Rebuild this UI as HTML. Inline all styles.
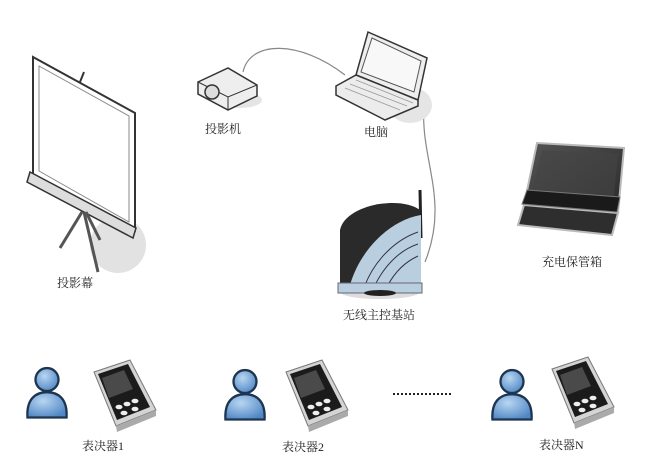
<!DOCTYPE html>
<html><head><meta charset="utf-8"><style>
html,body{margin:0;padding:0;background:#fff;}
svg{display:block}
text{font-family:"Liberation Serif","Noto Serif CJK SC",serif;font-size:12px;fill:#222}
</style></head><body>
<svg width="650" height="464" viewBox="0 0 650 464" xmlns="http://www.w3.org/2000/svg">
<defs>
<radialGradient id="pg" cx="0.4" cy="0.35" r="0.7"><stop offset="0" stop-color="#b8d6f2"/><stop offset="1" stop-color="#4f86c4"/></radialGradient>
<linearGradient id="cg" x1="0" y1="0" x2="1" y2="1"><stop offset="0" stop-color="#555"/><stop offset="1" stop-color="#2a2a2a"/></linearGradient>
<g id="person">
<path d="M-17,30 C-18,14 -10,8 0,8 C10,8 18,14 17,30 Z" fill="url(#pg)" stroke="#1e3550" stroke-width="2"/>
<circle cx="0" cy="-3" r="10" fill="url(#pg)" stroke="#1e3550" stroke-width="2"/>
</g>
<g id="dev">
<polygon points="0,12 36,0 62,50 22,66" fill="#d4d4d4" stroke="#777" stroke-width="1"/>
<polygon points="4,14 34,4 56,47 23,60" fill="#1b1b1b"/>
<polygon points="8,18 30,10 39,29 15,38" fill="#4a4a4a"/>
<ellipse cx="25" cy="47" rx="3.5" ry="2.3" fill="#eee"/>
<ellipse cx="33" cy="44" rx="3.5" ry="2.3" fill="#eee"/>
<ellipse cx="41" cy="41" rx="3.5" ry="2.3" fill="#eee"/>
<ellipse cx="30" cy="53" rx="3.5" ry="2.3" fill="#eee"/>
<ellipse cx="41" cy="49" rx="3.5" ry="2.3" fill="#eee"/>
<polygon points="22,66 62,50 62,56 23,72" fill="#aaa"/>
</g>
</defs>

<ellipse cx="118" cy="245" rx="28" ry="28" fill="#e2e2e2"/>
<polygon points="33,57 135,113 135,230 33,174" fill="#fff" stroke="#333" stroke-width="2"/>
<polygon points="39,66 129,116 129,222 39,171" fill="#fff" stroke="#888" stroke-width="1"/>
<line x1="80" y1="82" x2="84" y2="72" stroke="#333" stroke-width="2"/>
<polygon points="30,172 136,228 133,238 27,182" fill="#ddd" stroke="#333" stroke-width="1.5"/>
<g stroke="#555" stroke-width="3" fill="none">
<line x1="82" y1="212" x2="60" y2="248"/>
<line x1="84" y1="212" x2="98" y2="272"/>
<line x1="86" y1="212" x2="100" y2="240"/>
</g>
<text x="57" y="287">投影幕</text>

<path d="M243,72 C250,40 300,40 345,75" fill="none" stroke="#888" stroke-width="1.2"/>
<path d="M424,106 C420,160 450,200 425,262" fill="none" stroke="#888" stroke-width="1.2"/>

<ellipse cx="240" cy="100" rx="22" ry="8" fill="#e5e5e5"/>
<polygon points="198,82 228,68 257,85 257,96 228,110 198,94" fill="#eee" stroke="#333" stroke-width="1.5"/>
<polyline points="198,82 228,97 257,85" fill="none" stroke="#333" stroke-width="1"/>
<line x1="228" y1="97" x2="228" y2="110" stroke="#333"/>
<circle cx="212" cy="92" r="7" fill="#ddd" stroke="#333" stroke-width="1.5"/>
<text x="205" y="133">投影机</text>

<ellipse cx="410" cy="105" rx="22" ry="18" fill="#e5e5e5"/>
<polygon points="368,32 427,58 418,100 356,75" fill="#eee" stroke="#333" stroke-width="1.5"/>
<polygon points="372,38 421,61 414,92 361,72" fill="#f8f8f8" stroke="#555"/>
<polygon points="336,86 356,75 418,100 418,106 385,120 336,95" fill="#ececec" stroke="#333" stroke-width="1.5"/>
<g stroke="#999" stroke-width="0.8"><line x1="345" y1="88" x2="400" y2="110"/><line x1="350" y1="84" x2="407" y2="106"/><line x1="356" y1="80" x2="413" y2="103"/></g>
<text x="364" y="136">电脑</text>

<ellipse cx="380" cy="292" rx="40" ry="7" fill="#ddd"/>
<line x1="420" y1="190" x2="421" y2="238" stroke="#222" stroke-width="3"/>
<path d="M340,230 C345,205 400,195 420,210 L421,285 L340,285 Z" fill="#2a2a2a"/>
<path d="M350,285 C360,250 390,220 421,215 L421,285 Z" fill="#b9cfe0"/>
<g fill="none" stroke="#334" stroke-width="1"><path d="M365,285 C375,260 395,240 418,232"/><path d="M375,285 C385,265 400,250 418,244"/><path d="M388,285 C395,272 405,262 418,256"/></g>
<rect x="338" y="283" width="84" height="10" fill="#b9cfe0" stroke="#667"/>
<ellipse cx="380" cy="293" rx="16" ry="3" fill="#222"/>
<text x="343" y="319">无线主控基站</text>

<polygon points="537,143 624,148 618,213 524,205" fill="url(#cg)" stroke="#bbb" stroke-width="2"/>
<polygon points="542,150 618,154 613,207 530,200" fill="#444" opacity="0.6"/>
<polygon points="524,205 618,213 612,235 518,225" fill="#2e2e2e" stroke="#bbb" stroke-width="2"/>
<polygon points="527,190 620,197 617,212 522,204" fill="#1a1a1a" stroke="#777"/>
<text x="542" y="266">充电保管箱</text>

<use href="#person" transform="translate(47,383) scale(1.15)"/>
<use href="#dev" x="94" y="360"/>
<text x="82" y="450">表决器1</text>
<use href="#person" transform="translate(245,385) scale(1.15)"/>
<use href="#dev" x="286" y="360"/>
<text x="282" y="451">表决器2</text>
<line x1="393" y1="394" x2="452" y2="394" stroke="#222" stroke-width="2" stroke-dasharray="2,2"/>
<use href="#person" transform="translate(512,385) scale(1.15)"/>
<use href="#dev" x="552" y="357"/>
<text x="539" y="449">表决器N</text>
</svg>
</body></html>
